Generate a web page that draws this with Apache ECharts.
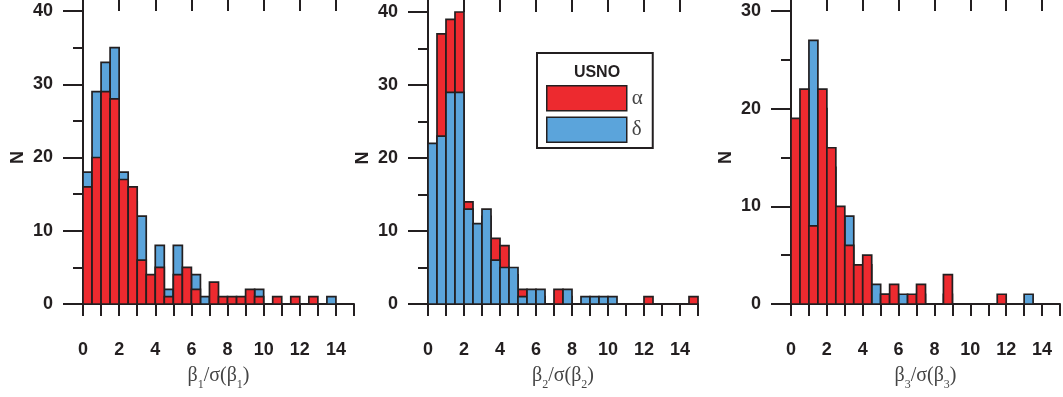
<!DOCTYPE html>
<html>
<head>
<meta charset="utf-8">
<script src="https://cdn.jsdelivr.net/npm/echarts@6/dist/echarts.min.js"></script>
<style>
html, body { margin: 0; padding: 0; background: #fff; }
#chart { width: 1063px; height: 397px; }
</style>
</head>
<body>
<div id="chart"></div>
<script>
// histogram counts, bins of 0.5 starting at 0
var binWidth = 0.5;
var xTicks = [0, 2, 4, 6, 8, 10, 12, 14];

var alpha1 = [16, 20, 29, 28, 17, 16, 6, 4, 5, 1, 4, 5, 2, 0, 3, 1, 1, 1, 2, 1, 0, 1, 0, 1, 0, 1, 0, 0];
var delta1 = [18, 29, 33, 35, 18, 14, 12, 3, 8, 2, 8, 4, 4, 1, 0, 0, 0, 0, 1, 2, 0, 0, 0, 0, 0, 0, 0, 1];

var alpha2 = [15, 37, 39, 40, 14, 10, 12, 9, 8, 4, 2, 1, 1, 0, 2, 1, 0, 0, 0, 0, 0, 0, 0, 0, 1, 0, 0, 0, 0, 1];
var delta2 = [22, 23, 29, 29, 13, 11, 13, 6, 5, 5, 1, 2, 2, 0, 0, 2, 0, 1, 1, 1, 1, 0, 0, 0, 0, 0, 0, 0, 0, 0];

var alpha3 = [19, 22, 8, 22, 16, 10, 6, 4, 5, 0, 1, 2, 0, 1, 2, 0, 0, 3, 0, 0, 0, 0, 0, 1, 0, 0, 0, 0];
var delta3 = [15, 18, 27, 20, 14, 8, 9, 3, 4, 2, 1, 1, 1, 0, 1, 0, 0, 1, 0, 0, 0, 0, 0, 0, 0, 0, 1, 0];

var RED = '#ed2a2f';
var BLUE = '#5ba4db';
var INK = '#231f20';

var panels = [
    { alpha: alpha1, delta: delta1, ymax: 40, sub: '1', front: 'alpha', grid: { left: 83, top: 11, width: 271, height: 293 } },
    { alpha: alpha2, delta: delta2, ymax: 40, sub: '2', front: 'delta', grid: { left: 428, top: 12, width: 270, height: 292 } },
    { alpha: alpha3, delta: delta3, ymax: 30, sub: '3', front: 'alpha', grid: { left: 791, top: 11, width: 271, height: 293 } }
];

function toBins(counts) {
    var out = [];
    for (var i = 0; i < counts.length; i++) {
        if (counts[i] > 0) out.push([i * binWidth, (i + 1) * binWidth, counts[i]]);
    }
    return out;
}

function renderBar(params, api) {
    var p0 = api.coord([api.value(0), api.value(2)]);
    var p1 = api.coord([api.value(1), 0]);
    return {
        type: 'rect',
        shape: { x: p0[0], y: p0[1], width: p1[0] - p0[0], height: p1[1] - p0[1] },
        style: { fill: api.visual('color'), stroke: INK, lineWidth: 1.7 }
    };
}

var labelFont = { fontFamily: 'Liberation Sans', fontWeight: 'bold', fontSize: 18, color: INK };

var grids = [], xAxes = [], yAxes = [], series = [];

panels.forEach(function (p, k) {
    grids.push(p.grid);

    xAxes.push({
        type: 'value', gridIndex: k, min: 0, max: 15, interval: 1,
        axisLine: { lineStyle: { color: INK, width: 2 } },
        axisTick: { length: 12, lineStyle: { color: INK, width: 2 } },
        splitLine: { show: false },
        axisLabel: Object.assign({
            margin: 37,
            formatter: function (v) { return xTicks.indexOf(v) >= 0 ? String(v) : ''; }
        }, labelFont),
        name: '{t|β}{s|' + p.sub + '}{t|/σ(β}{s|' + p.sub + '}{t|)}',
        nameLocation: 'middle', nameGap: 61,
        nameTextStyle: {
            rich: {
                t: { fontFamily: 'Liberation Serif', fontSize: 20, color: '#444', lineHeight: 22 },
                s: { fontFamily: 'Liberation Serif', fontSize: 12, color: '#444', lineHeight: 12, verticalAlign: 'top', padding: [14, 0, 0, 0] }
            }
        }
    });
    // long ticks at the labelled values
    xAxes.push({
        type: 'value', gridIndex: k, min: 0, max: 15,
        axisLine: { show: false },
        axisTick: { length: 22, customValues: xTicks, lineStyle: { color: INK, width: 2 } },
        axisLabel: { show: false },
        splitLine: { show: false }
    });

    yAxes.push({
        type: 'value', gridIndex: k, min: 0, max: p.ymax, interval: 10,
        axisLine: { show: true, lineStyle: { color: INK, width: 2 } },
        axisTick: { show: true, length: 20, lineStyle: { color: INK, width: 2 } },
        minorTick: { show: true, splitNumber: 2, length: 10, lineStyle: { color: INK, width: 2 } },
        splitLine: { show: false },
        axisLabel: Object.assign({ margin: 30 }, labelFont),
        name: 'N', nameLocation: 'middle', nameRotate: 90, nameGap: 56,
        nameTextStyle: labelFont
    });

    var a = { name: 'α', type: 'custom', xAxisIndex: k * 2, yAxisIndex: k, renderItem: renderBar,
              itemStyle: { color: RED }, encode: { x: [0, 1], y: 2 }, data: toBins(p.alpha) };
    var d = { name: 'δ', type: 'custom', xAxisIndex: k * 2, yAxisIndex: k, renderItem: renderBar,
              itemStyle: { color: BLUE }, encode: { x: [0, 1], y: 2 }, data: toBins(p.delta) };
    // the front histogram is drawn last
    if (p.front === 'alpha') { series.push(d, a); } else { series.push(a, d); }
});

var chart = echarts.init(document.getElementById('chart'));
chart.setOption({
    animation: false,
    grid: grids,
    xAxis: xAxes,
    yAxis: yAxes,
    legend: {
        left: 537, top: 53, orient: 'vertical',
        padding: [32, 10, 5, 9],
        itemWidth: 80, itemHeight: 25, itemGap: 5,
        borderColor: INK, borderWidth: 2, backgroundColor: '#fff',
        selectedMode: false,
        textStyle: { fontFamily: 'Liberation Serif', fontSize: 21, color: '#444' },
        data: [
            { name: 'α', icon: 'rect', itemStyle: { color: RED, borderColor: INK, borderWidth: 1.5 } },
            { name: 'δ', icon: 'rect', itemStyle: { color: BLUE, borderColor: INK, borderWidth: 1.5 } }
        ]
    },
    graphic: [{
        type: 'text', x: 597, y: 73, z: 100,
        style: { text: 'USNO', fontFamily: 'Liberation Sans', fontWeight: 'bold', fontSize: 16, fill: INK, align: 'center', verticalAlign: 'middle' }
    }],
    series: series
});
</script>
</body>
</html>
